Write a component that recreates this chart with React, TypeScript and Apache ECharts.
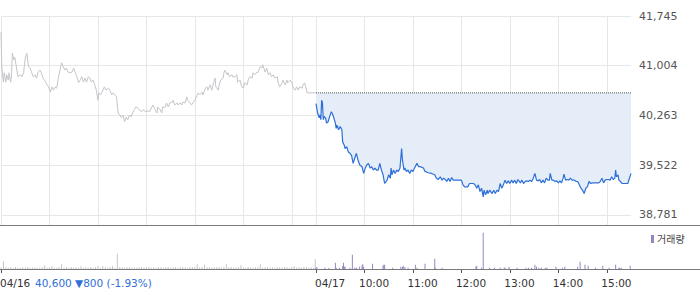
import React, { useEffect, useRef } from "react";
import * as echarts from "echarts";

// minutes of one trading session (09:00 - 15:30)
const SESSION_MINUTES = 390;

// 04/16 price line: [minutes since 09:00, price]
const prevDay: [number, number][] = [
  [0, 41510], [1, 40970], [3, 40760], [4, 40900], [6, 40760], [7, 40870], [9, 40790], [10, 40900], [12, 40760], [13, 40870],
  [14, 41190], [16, 41090], [17, 41130], [19, 40990], [21, 40840], [24, 40870], [26, 40840], [28, 40900], [30, 41120], [32, 41190],
  [34, 40990], [36, 40970], [38, 40900], [40, 40840], [42, 40870], [44, 40820], [46, 40910], [48, 40940], [50, 40900], [52, 40820],
  [54, 40790], [57, 40720], [59, 40690], [61, 40610], [63, 40690], [65, 40640], [67, 40690], [69, 40670], [71, 40820], [73, 40940],
  [75, 41050], [77, 40990], [79, 40940], [81, 40970], [83, 40910], [85, 40900], [88, 40910], [90, 40970], [92, 40900], [94, 40840],
  [96, 40750], [98, 40790], [100, 40840], [102, 40760], [104, 40820], [106, 40760], [108, 40840], [110, 40820], [112, 40760], [114, 40790],
  [116, 40720], [118, 40640], [120, 40490], [121, 40600], [123, 40570], [125, 40610], [128, 40690], [130, 40640], [133, 40670], [135, 40640],
  [137, 40570], [139, 40600], [141, 40570], [143, 40540], [145, 40300], [147, 40270], [149, 40230], [151, 40270], [153, 40170], [155, 40240],
  [157, 40200], [159, 40270], [161, 40240], [163, 40300], [165, 40350], [167, 40390], [169, 40380], [171, 40350], [174, 40320], [176, 40350],
  [179, 40320], [182, 40330], [184, 40320], [188, 40420], [191, 40350], [193, 40300], [194, 40390], [197, 40350], [199, 40300], [200, 40390],
  [203, 40380], [205, 40450], [207, 40390], [209, 40450], [212, 40460], [213, 40490], [215, 40420], [218, 40450], [219, 40420], [222, 40450],
  [224, 40420], [225, 40460], [228, 40450], [230, 40540], [231, 40490], [234, 40450], [236, 40420], [238, 40460], [240, 40490], [243, 40570],
  [244, 40600], [246, 40570], [249, 40610], [250, 40570], [253, 40670], [255, 40690], [256, 40640], [259, 40720], [261, 40640], [262, 40690],
  [265, 40820], [266, 40690], [269, 40640], [270, 40720], [272, 40790], [275, 40820], [276, 40900], [277, 40940], [280, 40870], [281, 40900],
  [283, 40840], [286, 40870], [287, 40840], [290, 40840], [292, 40870], [293, 40760], [296, 40790], [298, 40690], [300, 40670], [302, 40750],
  [305, 40720], [306, 40790], [308, 40840], [311, 40820], [312, 40900], [314, 40870], [317, 40910], [318, 40900], [321, 40990], [323, 40970],
  [324, 41020], [327, 40910], [329, 40970], [331, 40870], [333, 40900], [335, 40840], [337, 40870], [339, 40820], [342, 40840], [343, 40760],
  [345, 40690], [348, 40750], [349, 40790], [352, 40720], [354, 40790], [355, 40750], [358, 40790], [360, 40760], [362, 40670], [364, 40640],
  [366, 40690], [368, 40640], [370, 40690], [373, 40670], [374, 40720], [376, 40750], [379, 40600], [390, 40600],
];

// 04/17 price line: [minutes since 09:00, price]
const today: [number, number][] = [
  [0, 40440], [2, 40300], [4, 40230], [5, 40270], [6, 40200], [7, 40490], [8, 40450], [9, 40200], [10, 40250], [12, 40220],
  [13, 40150], [15, 40170], [17, 40250], [19, 40320], [21, 40270], [24, 40150], [25, 40070], [26, 40120], [28, 40050], [30, 40100],
  [32, 40050], [33, 39870], [35, 39820], [36, 39770], [38, 39800], [40, 39720], [42, 39700], [44, 39670], [46, 39550], [48, 39630],
  [50, 39700], [52, 39600], [54, 39530], [57, 39500], [59, 39400], [61, 39480], [63, 39530], [65, 39550], [67, 39480], [69, 39500],
  [71, 39450], [73, 39480], [75, 39450], [77, 39450], [79, 39550], [81, 39450], [83, 39380], [85, 39250], [88, 39300], [90, 39380],
  [92, 39330], [93, 39480], [94, 39380], [96, 39450], [98, 39400], [100, 39450], [102, 39430], [104, 39480], [106, 39770], [107, 39600],
  [109, 39450], [110, 39480], [112, 39430], [114, 39450], [116, 39400], [118, 39450], [120, 39430], [122, 39480], [125, 39550], [127, 39500],
  [129, 39500], [131, 39490], [133, 39480], [135, 39430], [139, 39410], [143, 39400], [147, 39380], [149, 39330], [151, 39310], [154, 39350],
  [156, 39300], [158, 39330], [160, 39310], [162, 39280], [164, 39330], [166, 39280], [168, 39340], [170, 39300], [172, 39300], [176, 39300],
  [180, 39300], [182, 39230], [184, 39200], [188, 39200], [190, 39250], [191, 39250], [195, 39250], [197, 39230], [199, 39180], [201, 39230],
  [203, 39130], [205, 39180], [207, 39050], [208, 39150], [210, 39080], [212, 39150], [213, 39100], [215, 39150], [218, 39100], [220, 39150],
  [222, 39100], [224, 39150], [226, 39130], [228, 39250], [230, 39180], [232, 39230], [234, 39300], [236, 39250], [238, 39290], [240, 39250],
  [242, 39300], [244, 39260], [246, 39300], [248, 39250], [250, 39310], [253, 39260], [255, 39300], [257, 39250], [259, 39280], [261, 39290],
  [263, 39280], [265, 39300], [267, 39280], [269, 39330], [271, 39400], [273, 39300], [275, 39290], [277, 39310], [279, 39260], [281, 39300],
  [283, 39260], [285, 39330], [287, 39300], [289, 39300], [290, 39400], [292, 39300], [294, 39300], [296, 39280], [298, 39290], [300, 39260],
  [302, 39290], [304, 39260], [306, 39330], [307, 39390], [309, 39300], [311, 39310], [313, 39300], [315, 39330], [317, 39300], [320, 39300],
  [322, 39280], [324, 39280], [326, 39230], [328, 39180], [330, 39150], [332, 39100], [334, 39180], [336, 39200], [338, 39280], [340, 39250],
  [342, 39260], [345, 39260], [350, 39260], [352, 39280], [354, 39330], [356, 39260], [358, 39300], [360, 39310], [362, 39310], [364, 39300],
  [366, 39350], [368, 39310], [370, 39330], [371, 39450], [372, 39350], [374, 39380], [375, 39300], [377, 39280], [379, 39250], [382, 39250],
  [386, 39250], [390, 39400],
];

const prevClose = 40600;

// 04/16 volume, one value every 3 minutes from 09:00
const VOLUME_STEP = 3;
const prevVolumes: number[] = [
  150, 770, 200, 130, 170, 100, 200, 130, 100, 170,
  130, 200, 100, 130, 170, 100, 130, 200, 370, 130,
  170, 300, 130, 100, 200, 470, 130, 170, 100, 200,
  130, 170, 130, 270, 100, 170, 130, 200, 130, 170,
  300, 130, 300, 170, 130, 200, 300, 130, 1530, 200,
  170, 130, 170, 200, 130, 170, 130, 200, 170, 130,
  170, 200, 130, 170, 130, 200, 170, 130, 170, 200,
  130, 170, 200, 130, 170, 200, 170, 130, 200, 170,
  200, 470, 170, 200, 430, 170, 200, 130, 200, 170,
  200, 130, 200, 470, 170, 200, 130, 170, 200, 370,
  170, 130, 200, 170, 130, 200, 170, 470, 130, 170,
  200, 130, 170, 130, 200, 170, 130, 200, 170, 130,
  200, 300, 130, 170, 130, 200, 230, 130, 170, 100,
];
const prevClosingAuctionVolume: [number, number] = [389, 970];

// 04/17 volume: [minutes since 09:00, volume]
const todayVolumes: [number, number][] = [
  [0, 130], [1, 200], [11, 130], [16, 130], [24, 630], [25, 130], [29, 130], [33, 300], [34, 630], [35, 230],
  [36, 230], [42, 130], [45, 1430], [48, 130], [50, 130], [54, 230], [57, 370], [58, 470], [59, 200], [70, 530],
  [83, 330], [84, 430], [85, 430], [95, 130], [105, 230], [107, 200], [108, 330], [110, 200], [114, 130], [123, 430],
  [125, 130], [135, 530], [147, 1030], [148, 130], [156, 130], [198, 230], [199, 330], [205, 130], [207, 3630], [215, 130],
  [221, 130], [228, 130], [233, 130], [234, 130], [239, 230], [249, 130], [260, 130], [263, 130], [267, 130], [271, 430],
  [273, 230], [276, 130], [279, 130], [284, 130], [286, 130], [297, 230], [305, 130], [308, 230], [324, 230], [327, 730],
  [333, 430], [337, 330], [346, 130], [355, 330], [363, 130], [371, 430], [375, 130], [376, 130], [378, 130], [389, 330],
];

const priceTicks = [38781, 39522, 40263, 41004, 41745];
const gridMinutes = [0, 60, 120, 180, 240, 300, 360, 390, 450, 510, 570, 630, 690, 750];
const labelMinutes = [0, 390, 450, 510, 570, 630, 690, 750];
const labelTexts = ["04/16", "04/17", "10:00", "11:00", "12:00", "13:00", "14:00", "15:00"];
const summaryText = "40,600 ▼800 (-1.93%)";
const volumeName = "거래량";

const FONT = '"DejaVu Sans", "Noto Sans CJK KR", sans-serif';

export default function App() {
  const ref = useRef<HTMLDivElement>(null);

  useEffect(() => {
    if (!ref.current) return;
    const chart = echarts.init(ref.current, undefined, { renderer: "svg" });
    const totalMinutes = SESSION_MINUTES * 2;

    const baseGraphics: any[] = [
      {
        type: "line",
        silent: true,
        shape: { x1: 0, y1: 225.5, x2: 700, y2: 225.5 },
        style: { stroke: "#7a7a7a", lineWidth: 1 },
        z: 10,
      },
      {
        type: "line",
        silent: true,
        shape: { x1: 0, y1: 269.5, x2: 700, y2: 269.5 },
        style: { stroke: "#7a7a7a", lineWidth: 1 },
        z: 10,
      },
      {
        type: "text",
        silent: true,
        x: 35,
        y: 283,
        style: {
          text: summaryText,
          fill: "#2f6fd6",
          font: `10.5px ${FONT}`,
          verticalAlign: "middle",
          align: "left",
        },
      },
    ];

    const option: any = {
      animation: false,
      grid: [
        { left: 1, right: 69, top: 16, height: 209 },
        { left: 1, right: 69, top: 226, height: 43 },
      ],
      legend: {
        data: [volumeName],
        left: 651,
        top: 234,
        padding: 0,
        icon: "rect",
        itemWidth: 3,
        itemHeight: 8,
        selectedMode: false,
        textStyle: { fontSize: 10, color: "#444", fontFamily: FONT, padding: [0, 0, 0, -2] },
      },
      xAxis: [
        {
          type: "value",
          gridIndex: 0,
          min: 0,
          max: totalMinutes,
          axisLine: { show: false },
          axisTick: { show: false, customValues: gridMinutes },
          axisLabel: { show: false },
          splitLine: { show: true, lineStyle: { color: "#e7e7e7", width: 1 } },
        },
        {
          type: "value",
          gridIndex: 1,
          min: 0,
          max: totalMinutes,
          axisLine: { show: false },
          axisTick: { show: true, customValues: labelMinutes, length: 4, lineStyle: { color: "#555" } },
          axisLabel: { show: false },
          splitLine: { show: false },
        },
      ],
      yAxis: [
        {
          type: "value",
          gridIndex: 0,
          position: "right",
          min: 38632,
          max: 41745,
          axisLine: { show: false },
          axisTick: { show: false, customValues: priceTicks },
          axisLabel: {
            customValues: priceTicks,
            margin: 8,
            fontSize: 11,
            fontFamily: FONT,
            color: "#555",
            formatter: (v: number) => Math.round(v).toLocaleString("en-US"),
          },
          splitLine: { show: true, lineStyle: { color: "#e7e7e7", width: 1 } },
        },
        { type: "value", gridIndex: 1, min: 0, max: 4300, show: false },
      ],
      graphic: baseGraphics,
      series: [
        {
          name: "04/16",
          type: "line",
          xAxisIndex: 0,
          yAxisIndex: 0,
          data: prevDay,
          symbol: "none",
          silent: true,
          lineStyle: { color: "#c4c4ca", width: 1 },
        },
        {
          name: "04/17",
          type: "line",
          xAxisIndex: 0,
          yAxisIndex: 0,
          data: today.map(([t, p]) => [t + SESSION_MINUTES, p]),
          symbol: "none",
          silent: true,
          lineStyle: { color: "#2c6fd9", width: 1.2 },
          areaStyle: { color: "#e5edf9", opacity: 1, origin: prevClose },
        },
        {
          name: "prevClose",
          type: "line",
          xAxisIndex: 0,
          yAxisIndex: 0,
          data: [
            [SESSION_MINUTES, prevClose],
            [totalMinutes, prevClose],
          ],
          symbol: "none",
          silent: true,
          lineStyle: { color: "#555", width: 1, type: "dotted" },
        },
        {
          name: "04/16 " + volumeName,
          type: "bar",
          xAxisIndex: 1,
          yAxisIndex: 1,
          barWidth: 1,
          barGap: "-100%",
          silent: true,
          itemStyle: { color: "#c4c4c4" },
          data: prevVolumes.map((v, i) => [i * VOLUME_STEP, v]).concat([prevClosingAuctionVolume]),
        },
        {
          name: volumeName,
          type: "bar",
          xAxisIndex: 1,
          yAxisIndex: 1,
          barWidth: 1,
          barGap: "-100%",
          silent: true,
          itemStyle: { color: "#9784c4" },
          data: todayVolumes.map(([t, v]) => [t + SESSION_MINUTES, v]),
        },
      ],
    };

    chart.setOption(option);

    // time-axis labels placed through the axis scale
    const labelGraphics = labelMinutes.map((m, i) => {
      const px = chart.convertToPixel({ xAxisIndex: 1 }, m) as number;
      const isDate = labelTexts[i].indexOf("/") >= 0;
      return {
        type: "text",
        silent: true,
        x: isDate ? px - 1 : px - 5.5,
        y: 283,
        style: {
          text: labelTexts[i],
          fill: "#333",
          font: `10.5px ${FONT}`,
          verticalAlign: "middle",
          align: "left",
        },
      };
    });
    chart.setOption({ graphic: baseGraphics.concat(labelGraphics) });

    return () => chart.dispose();
  }, []);

  return (
    <div
      ref={ref}
      style={{ position: "absolute", left: 0, top: 0, width: 700, height: 289, background: "#fff" }}
    />
  );
}
